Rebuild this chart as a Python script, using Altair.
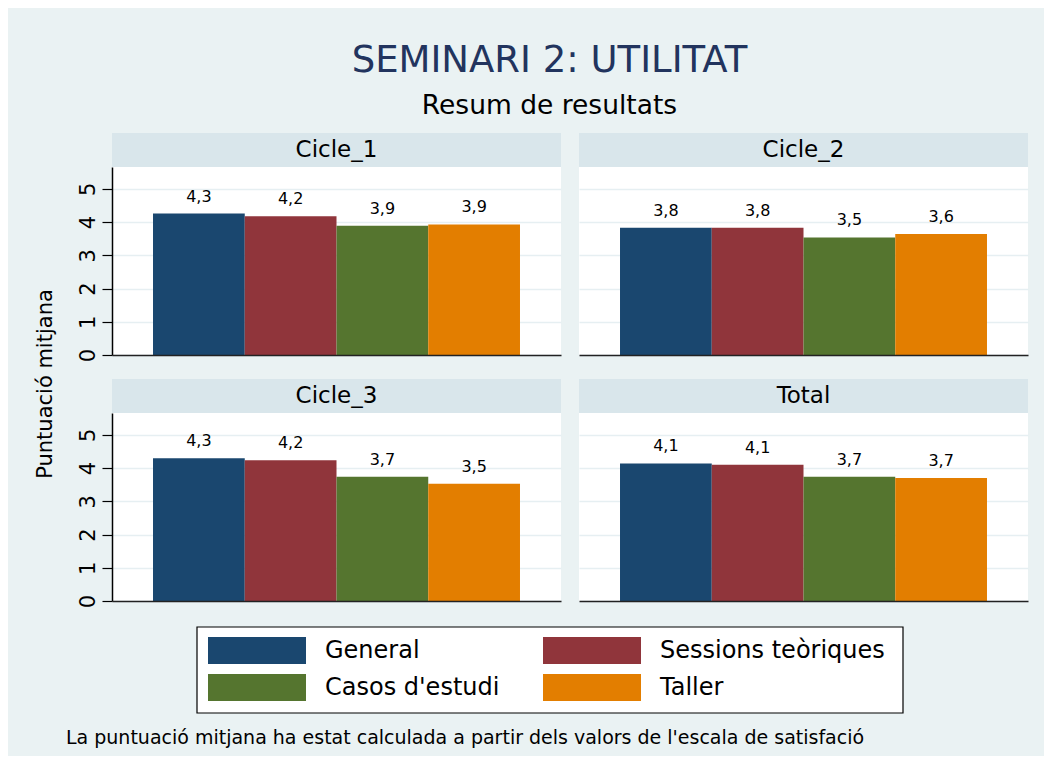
import altair as alt
import pandas as pd

# ---------------- data ----------------
SERIES = ["General", "Sessions teòriques", "Casos d'estudi", "Taller"]
COLORS = ["#1A476F", "#90353B", "#55752F", "#E37E00"]
PANELS = ["Cicle_1", "Cicle_2", "Cicle_3", "Total"]
CICLE_1 = [4.26, 4.18, 3.89, 3.93]
CICLE_2 = [3.83, 3.83, 3.54, 3.64]
CICLE_3 = [4.30, 4.24, 3.74, 3.53]
TOTAL = [4.14, 4.10, 3.74, 3.70]
Y_TICKS = [0, 1, 2, 3, 4, 5]
TITLE = "SEMINARI 2: UTILITAT"
SUBTITLE = "Resum de resultats"
Y_TITLE = "Puntuació mitjana"
NOTE = "La puntuació mitjana ha estat calculada a partir dels valors de l'escala de satisfació"

# ---------------- style ----------------
FONT = "DejaVu Sans"
BG = "#EAF2F3"
STRIP_COLOR = "#D9E6EB"
GRID = "#E6EFF2"
PW, PH = 449, 188
STRIP = 34
YMAX = 5.66
ROWGAP = 58
COLGAP = 18


def panel(name, values, left):
    df = pd.DataFrame({"serie": SERIES, "valor": values})
    one = pd.DataFrame({"panel": [name]})
    strip = alt.Chart(one).mark_rect(color=STRIP_COLOR).encode(
        x=alt.value(0), x2=alt.value(PW), y=alt.value(-STRIP), y2=alt.value(0)
    )
    strip_text = alt.Chart(one).mark_text(
        fontSize=23, font=FONT, color="black", baseline="middle", align="center"
    ).encode(x=alt.value(PW / 2), y=alt.value(-STRIP / 2), text="panel:N")

    yaxis = alt.Axis(
        values=Y_TICKS, title=None, grid=True, gridColor=GRID, gridWidth=1.5,
        domain=left, domainColor="black", domainWidth=1.5,
        ticks=left, tickColor="black", tickSize=10, tickWidth=1.2,
        labels=left, labelAngle=270, labelFontSize=21, labelFont=FONT,
        labelColor="black", labelPadding=4,
    )
    xaxis = alt.Axis(
        title=None, labels=False, ticks=False, domain=True, domainColor="#222",
        domainWidth=1.5, grid=False, zindex=1,
    )
    x = alt.X("serie:N", sort=SERIES, axis=xaxis,
              scale=alt.Scale(paddingInner=0, paddingOuter=0.447))
    y = alt.Y("valor:Q", axis=yaxis,
              scale=alt.Scale(domain=[0, YMAX], nice=False, zero=True))
    bars = alt.Chart(df).mark_bar().encode(
        x=x, y=y,
        color=alt.Color("serie:N", scale=alt.Scale(domain=SERIES, range=COLORS), legend=None),
    )
    labels = alt.Chart(df).transform_calculate(
        etiqueta="replace(format(datum.valor, '.1f'), '.', ',')"
    ).mark_text(
        baseline="alphabetic", dy=-12, fontSize=16, font=FONT, color="black"
    ).encode(x=x, y=y, text="etiqueta:N")
    layers = [strip, strip_text, bars, labels]
    if name == PANELS[0]:
        ytitle = alt.Chart(pd.DataFrame({"t": [Y_TITLE]})).mark_text(
            angle=270, fontSize=21, font=FONT, color="black", baseline="middle", align="center"
        ).encode(x=alt.value(-66), y=alt.value(217), text="t:N")
        layers.append(ytitle)
    return alt.layer(*layers).properties(
        width=PW, height=PH, view=alt.ViewBackground(fill="white", stroke=None)
    )


p1 = panel(PANELS[0], CICLE_1, True)
p2 = panel(PANELS[1], CICLE_2, False)
p3 = panel(PANELS[2], CICLE_3, True)
p4 = panel(PANELS[3], TOTAL, False)

# ---------------- legend + note (origin sits ROWGAP below the lower panels) ----
OFF = 26 - ROWGAP  # legend box top relative to this block's origin
leg_df = pd.DataFrame({"serie": SERIES, "col": [0, 1, 0, 1], "fila": [0, 0, 1, 1]})
frame = alt.Chart(pd.DataFrame({"a": [0]})).mark_rect(
    fill="white", stroke="black", strokeWidth=1.2
).encode(x=alt.value(85), x2=alt.value(791), y=alt.value(OFF), y2=alt.value(OFF + 86))
lx = alt.X("col:Q", scale=alt.Scale(domain=[0, 1], range=[145, 480]), axis=None)
ly = alt.Y("fila:Q", scale=alt.Scale(domain=[0, 1], range=[OFF + 23.5, OFF + 60.5]), axis=None)
swatch = alt.Chart(leg_df).mark_rect(width=98, height=27).encode(
    x=lx, y=ly,
    color=alt.Color("serie:N", scale=alt.Scale(domain=SERIES, range=COLORS), legend=None),
)
leg_text = alt.Chart(leg_df).mark_text(
    align="left", baseline="middle", dx=68, fontSize=24, font=FONT, color="black"
).encode(x=lx, y=ly, text="serie:N")
note = alt.Chart(pd.DataFrame({"t": [NOTE]})).mark_text(
    align="left", baseline="alphabetic", fontSize=19, font=FONT, color="black"
).encode(x=alt.value(-46), y=alt.value(OFF + 117), text="t:N")
bottom = alt.layer(frame, swatch, leg_text, note).properties(
    width=PW, height=60, view=alt.ViewBackground(fill=None, stroke=None)
)

chart = alt.concat(
    p1, p2, p3, p4, bottom, columns=2, bounds="flush",
    spacing={"row": ROWGAP, "column": COLGAP},
    title=alt.TitleParams(
        TITLE, subtitle=SUBTITLE, anchor="middle", dx=18,
        font=FONT, fontSize=37, fontWeight="normal", color="#22345E",
        subtitleFont=FONT, subtitleFontSize=26.5, subtitleColor="black",
        subtitlePadding=13, offset=13,
    ),
).properties(
    padding={"left": 27, "top": 33, "right": 16, "bottom": 8},
).configure(
    background=BG, font=FONT
).configure_view(stroke=None)

chart.save("out.html", embed_options={"renderer": "svg", "actions": False})
